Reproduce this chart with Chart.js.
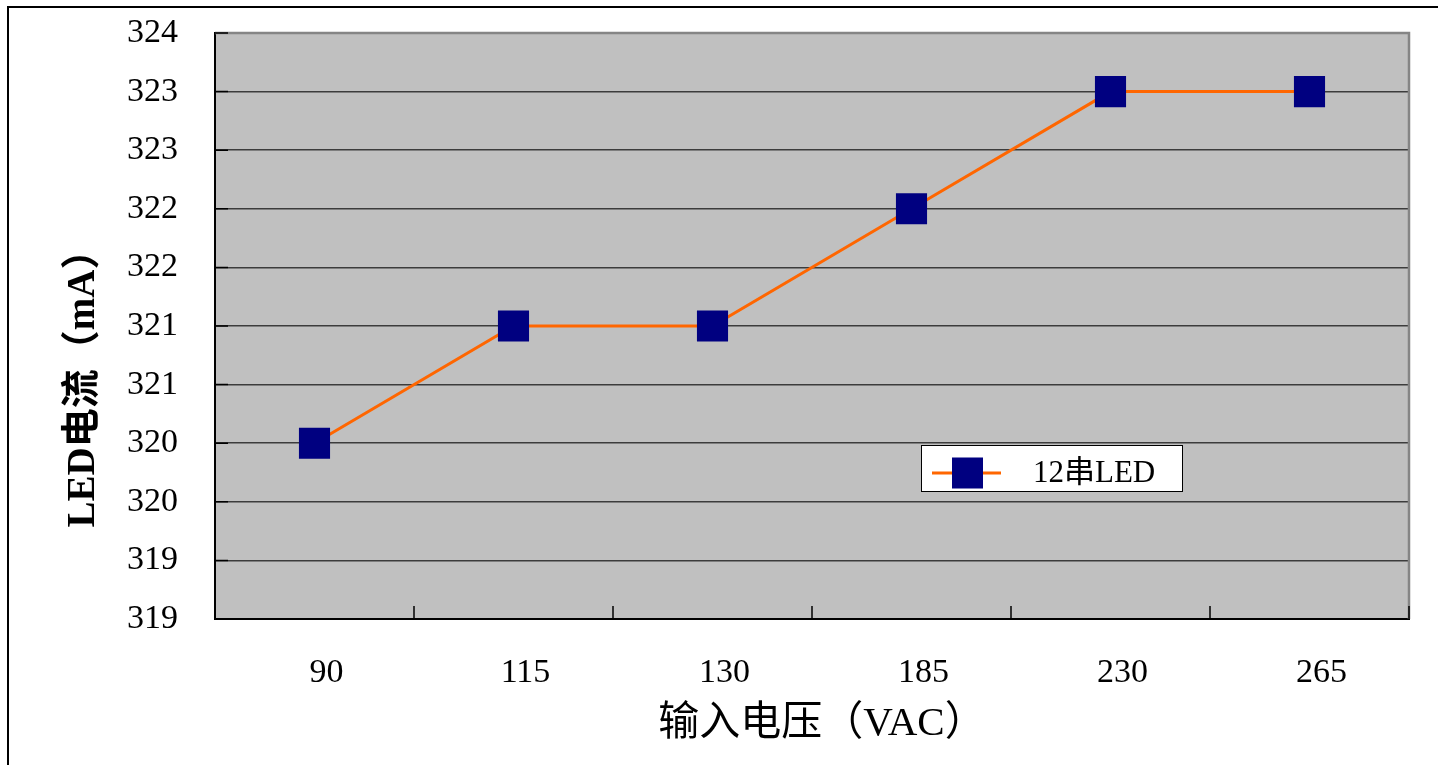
<!DOCTYPE html>
<html>
<head>
<meta charset="utf-8">
<script src="https://cdn.jsdelivr.net/npm/chart.js@4/dist/chart.umd.min.js"></script>
<style>
  html, body { margin: 0; padding: 0; background: #ffffff; }
  #wrap { width: 1438px; height: 765px; }
</style>
</head>
<body>
<div id="wrap"><canvas id="c" width="1438" height="765"></canvas></div>
<script>
// Input voltage categories (VAC) and measured LED current (mA)
const categories = ['90', '115', '130', '185', '230', '265'];
const currentMA = [320.3, 321.3, 321.3, 322.3, 323.3, 323.3];
const seriesLabel = '12串LED';

// Value axis: ticks every 0.5 mA, shown as whole numbers
const yTickValues = [318.8, 319.3, 319.8, 320.3, 320.8, 321.3, 321.8, 322.3, 322.8, 323.3, 323.8];
const yTickLabels = ['319', '319', '320', '320', '321', '321', '322', '322', '323', '323', '324'];

const xTitle = '输入电压（VAC）';
const yTitle = 'LED电流（mA）';

const SERIF = '"Liberation Serif", "Noto Sans CJK SC", serif';
const LINE_COLOR = '#FF6600';
const MARKER_COLOR = '#000080';

const framePlugin = {
  id: 'frame',
  beforeDraw(chart) {
    const { ctx, chartArea: a } = chart;
    ctx.save();
    ctx.fillStyle = '#ffffff';
    ctx.fillRect(0, 0, chart.width, chart.height);
    // outer chart border (left and top edges visible)
    ctx.strokeStyle = '#000000';
    ctx.lineWidth = 2;
    ctx.beginPath();
    ctx.moveTo(8, chart.height + 5);
    ctx.lineTo(8, 7);
    ctx.lineTo(chart.width + 5, 7);
    ctx.stroke();
    // plot area fill
    ctx.fillStyle = '#C0C0C0';
    ctx.fillRect(a.left, a.top, a.right - a.left, a.bottom - a.top);
    ctx.restore();
  },
  afterDraw(chart) {
    const { ctx, chartArea: a } = chart;
    const xs = chart.scales.x;
    const ys = chart.scales.y;
    ctx.save();

    // top and right plot edges
    ctx.strokeStyle = '#858585';
    ctx.lineWidth = 2.5;
    ctx.beginPath();
    ctx.moveTo(a.left, a.top);
    ctx.lineTo(a.right, a.top);
    ctx.lineTo(a.right, a.bottom);
    ctx.stroke();

    // inside tick marks
    ctx.strokeStyle = '#000000';
    ctx.lineWidth = 1.5;
    ctx.beginPath();
    ys.ticks.forEach(t => {
      const y = ys.getPixelForValue(t.value);
      ctx.moveTo(a.left, y);
      ctx.lineTo(a.left + 13, y);
    });
    const n = categories.length;
    const step = (xs.right - xs.left) / n;
    for (let i = 1; i <= n; i++) {
      const x = xs.left + i * step;
      ctx.moveTo(x, a.bottom);
      ctx.lineTo(x, a.bottom - 13);
    }
    ctx.stroke();

    // legend
    const ds = chart.data.datasets[0];
    const lx = 921, ly = 445, lw = 261, lh = 46;
    ctx.fillStyle = '#ffffff';
    ctx.fillRect(lx, ly, lw, lh);
    ctx.strokeStyle = '#000000';
    ctx.lineWidth = 1;
    ctx.strokeRect(lx + 0.5, ly + 0.5, lw, lh);
    const cy = ly + 28;
    ctx.strokeStyle = ds.borderColor;
    ctx.lineWidth = ds.borderWidth;
    ctx.beginPath();
    ctx.moveTo(932, cy);
    ctx.lineTo(1001, cy);
    ctx.stroke();
    ctx.fillStyle = ds.pointBackgroundColor;
    ctx.fillRect(952, cy - 15.5, 31, 31);
    ctx.fillStyle = '#000000';
    ctx.font = '31px ' + SERIF;
    ctx.textAlign = 'left';
    ctx.textBaseline = 'middle';
    ctx.fillText(ds.label, 1033, cy + 1);

    // axis titles
    ctx.font = '41px ' + SERIF;
    ctx.textAlign = 'center';
    ctx.textBaseline = 'middle';
    ctx.fillText(xTitle, (a.left + a.right) / 2 + 10, 724);

    ctx.translate(84, 379);
    ctx.rotate(-Math.PI / 2);
    ctx.font = 'bold 39px ' + SERIF;
    ctx.fillText(yTitle, 0, 0);
    ctx.restore();
  }
};

new Chart(document.getElementById('c'), {
  type: 'line',
  data: {
    labels: categories,
    datasets: [{
      label: seriesLabel,
      data: currentMA,
      borderColor: LINE_COLOR,
      borderWidth: 3,
      tension: 0,
      pointStyle: 'rect',
      pointRadius: 22,
      pointHoverRadius: 22,
      pointBackgroundColor: MARKER_COLOR,
      pointBorderColor: MARKER_COLOR,
      pointBorderWidth: 0
    }]
  },
  options: {
    responsive: false,
    devicePixelRatio: 1,
    animation: false,
    events: [],
    layout: { padding: { left: 0, top: 33, right: 29, bottom: 0 } },
    plugins: {
      legend: { display: false },
      tooltip: { enabled: false },
      title: { display: false }
    },
    scales: {
      x: {
        type: 'category',
        offset: true,
        grid: { display: false, offset: true },
        border: { display: true, color: '#000000', width: 2 },
        ticks: {
          color: '#000000',
          font: { family: SERIF, size: 34 },
          padding: 26,
          labelOffset: 12,
          maxRotation: 0,
          autoSkip: false
        },
        afterFit(scale) {
          scale.height = 765 - 619;
          scale.paddingLeft = 0;
          scale.paddingRight = 0;
        }
      },
      y: {
        type: 'linear',
        min: yTickValues[0],
        max: yTickValues[yTickValues.length - 1],
        afterBuildTicks(scale) {
          scale.ticks = yTickValues.map(v => ({ value: v }));
        },
        grid: { color: '#3c3c3c', lineWidth: 1.5, drawTicks: false },
        border: { display: true, color: '#000000', width: 2 },
        ticks: {
          color: '#000000',
          font: { family: SERIF, size: 34 },
          padding: 37,
          callback: (value, index) => yTickLabels[index]
        },
        afterFit(scale) {
          scale.width = 215;
          scale.paddingTop = 0;
          scale.paddingBottom = 0;
        }
      }
    }
  },
  plugins: [framePlugin]
});
</script>
</body>
</html>
